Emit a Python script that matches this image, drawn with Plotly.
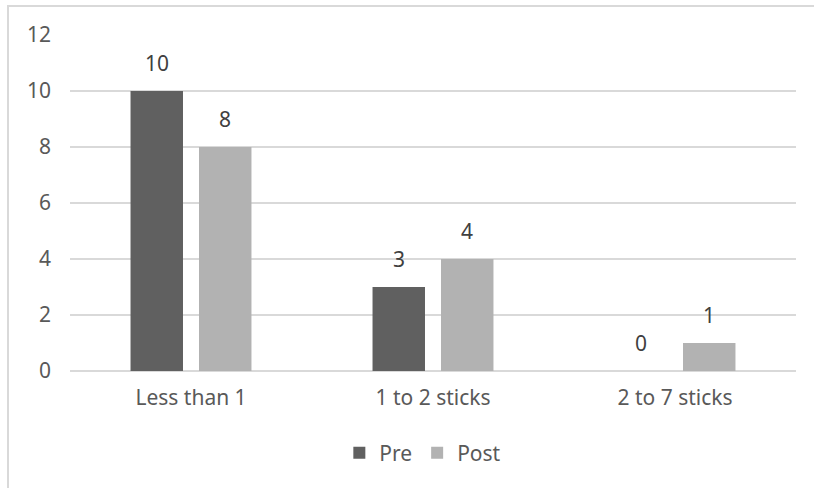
import plotly.graph_objects as go

categories = ["Less than 1", "1 to 2 sticks", "2 to 7 sticks"]
pre_values = [10, 3, 0]
post_values = [8, 4, 1]
y_ticks = [0, 2, 4, 6, 8, 10, 12]

PRE_COLOR = "#606060"
POST_COLOR = "#B2B2B2"
TEXT_COLOR = "#595959"
GRID_COLOR = "#D9D9D9"
FONT = "Noto Sans"

W, H = 814, 488
M_L, M_R, M_T, M_B = 70, 18, 35, 117
BARGAP = 0.434
BARGROUPGAP = 0.234

fig = go.Figure()
fig.add_trace(go.Bar(name="Pre", x=categories, y=pre_values, marker_color=PRE_COLOR,
                     marker_line_width=0))
fig.add_trace(go.Bar(name="Post", x=categories, y=post_values, marker_color=POST_COLOR,
                     marker_line_width=0))

# value labels above each bar, offset to the bar's slot within its group
plot_w = W - M_L - M_R
slot = plot_w / len(categories) * (1 - BARGAP) / 2
for values, side in ((pre_values, -1), (post_values, 1)):
    for cat, v in zip(categories, values):
        fig.add_annotation(x=cat, y=v, text=str(v), showarrow=False,
                           xshift=side * slot / 2, yshift=28, yanchor="middle",
                           font=dict(family=FONT, size=21, color="#404040"))

plot_h = H - M_T - M_B
# chart-area frame
fig.add_shape(type="rect", xref="paper", yref="paper",
              x0=(8 - M_L) / plot_w, x1=(W + 20 - M_L) / plot_w,
              y0=-(H + 20 - M_T - plot_h) / plot_h, y1=1 + (M_T - 6) / plot_h,
              line=dict(color="#D9D9D9", width=2), fillcolor="rgba(0,0,0,0)",
              layer="below")

fig.update_layout(
    width=W, height=H,
    margin=dict(l=M_L, r=M_R, t=M_T, b=M_B),
    paper_bgcolor="white", plot_bgcolor="white",
    barmode="group", bargap=BARGAP, bargroupgap=BARGROUPGAP,
    font=dict(family=FONT, size=21, color=TEXT_COLOR),
    showlegend=True,
    legend=dict(orientation="h", x=0.486, xanchor="center", y=-0.244, yanchor="middle",
                font=dict(family=FONT, size=21, color=TEXT_COLOR),
                itemwidth=30, traceorder="normal"),
    xaxis=dict(showgrid=False, showline=False, zeroline=False,
               tickfont=dict(family=FONT, size=21, color=TEXT_COLOR),
               ticks="", ticklabelstandoff=12),
    yaxis=dict(range=[0, 12], tickvals=y_ticks, showgrid=True, gridcolor=GRID_COLOR,
               gridwidth=1.5, zeroline=True, zerolinecolor=GRID_COLOR, zerolinewidth=1.5,
               showline=False, ticks="", ticklabelstandoff=18,
               tickfont=dict(family=FONT, size=21, color=TEXT_COLOR)),
)

fig.write_html("out.html")
